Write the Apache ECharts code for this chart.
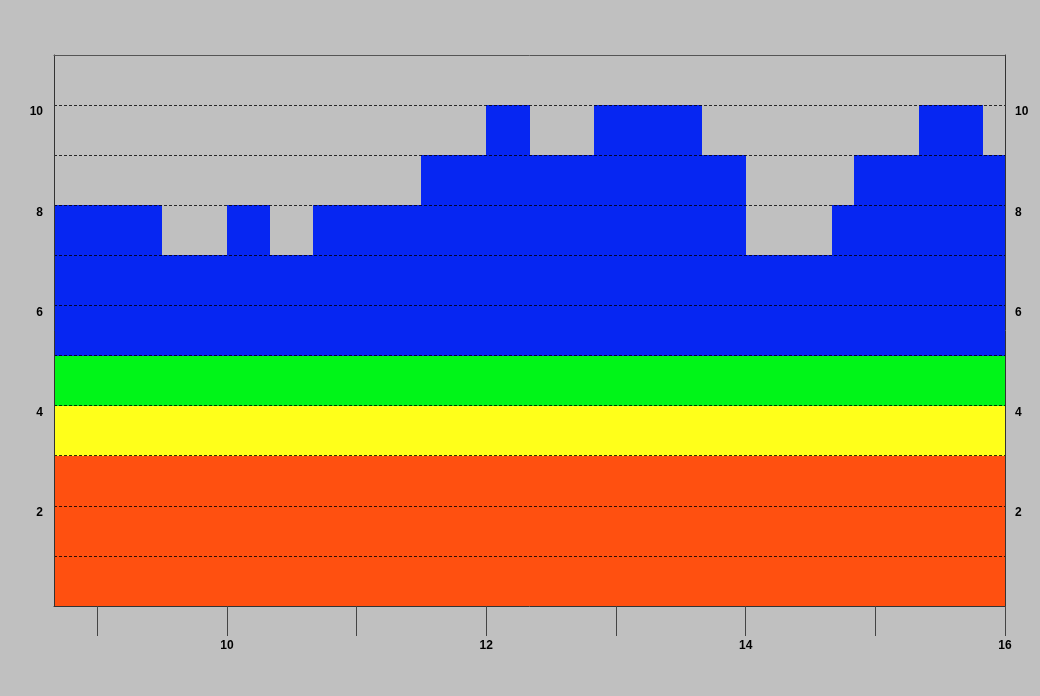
<!DOCTYPE html>
<html>
<head>
<meta charset="utf-8">
<script src="https://cdn.jsdelivr.net/npm/echarts@6/dist/echarts.min.js"></script>
<style>
html,body{margin:0;padding:0;background:#c0c0c0;}
#chart{width:1040px;height:696px;}
</style>
</head>
<body>
<div id="chart"></div>
<script>
// ---- data ----
const segStart = ['8:40','9:30','10:00','10:20','10:40','11:30','12:00','12:20','12:50','13:40','14:00','14:40','14:50','15:20','15:50'];
const segEnd   = ['9:30','10:00','10:20','10:40','11:30','12:00','12:20','12:50','13:40','14:00','14:40','14:50','15:20','15:50','16:00'];
const segLevel = [8, 7, 8, 7, 8, 9, 10, 9, 10, 9, 7, 8, 9, 10, 9];
const blueBase = 5;
const bandLow  = [0, 3, 4];
const bandHigh = [3, 4, 5];
const xStart = '8:40';
const xEnd = '16:00';
const xTickValues = [9, 10, 11, 12, 13, 14, 15, 16];
const xLabelValues = [10, 12, 14, 16];
const yLabelValues = [2, 4, 6, 8, 10];

// ---- styles ----
const bandColors = ['#ff5010', '#ffff1a', '#00f518'];
const blueColor = '#0626f2';

function toHours(s){ const p = s.split(':'); return +p[0] + (+p[1])/60; }
const xMin = toHours(xStart), xMax = toHours(xEnd);

const blueData = segStart.map((s,i)=>[toHours(s), toHours(segEnd[i]), blueBase, segLevel[i]]);
const bandData = bandLow.map((lo,i)=>[xMin, xMax, lo, bandHigh[i], i]);

function rectItem(params, api, color){
  const p0 = api.coord([api.value(0), api.value(3)]);
  const p1 = api.coord([api.value(1), api.value(2)]);
  const x0 = Math.round(p0[0]), y0 = Math.round(p0[1]);
  const x1 = Math.round(p1[0]), y1 = Math.round(p1[1]);
  return {type:'rect', shape:{x:x0, y:y0, width:x1-x0, height:y1-y0}, style:{fill:color}};
}

const labelStyle = {color:'#000', fontFamily:'Liberation Sans, Arial, sans-serif', fontWeight:'bold', fontSize:12};

const chart = echarts.init(document.getElementById('chart'));
chart.setOption({
  backgroundColor:'#c0c0c0',
  animation:false,
  grid:{left:54, right:35, top:55, bottom:90, show:false},
  xAxis:[{
    type:'value', min:xMin, max:xMax, z:12,
    axisLine:{show:true, onZero:false, lineStyle:{color:'#333', width:1}},
    axisTick:{show:true, length:30, customValues:xTickValues, lineStyle:{color:'#444', width:1}},
    axisLabel:Object.assign({show:true, margin:34, customValues:xLabelValues, formatter:v=>String(Math.round(v))}, labelStyle),
    splitLine:{show:false}
  },{
    type:'value', min:xMin, max:xMax, position:'top', z:12,
    axisLine:{show:true, onZero:false, lineStyle:{color:'#555', width:1}},
    axisTick:{show:false}, axisLabel:{show:false}, splitLine:{show:false}
  }],
  yAxis:[{
    type:'value', min:0, max:11, interval:1, z:10,
    axisLine:{show:true, onZero:false, lineStyle:{color:'#333', width:1}},
    axisTick:{show:false},
    axisLabel:Object.assign({margin:11, verticalAlign:'top', padding:[1,0,0,0], formatter:v=>yLabelValues.indexOf(v)>=0?String(v):''}, labelStyle),
    splitLine:{show:true, showMinLine:false, showMaxLine:false, lineStyle:{color:'rgba(0,0,0,0.8)', type:[3,2], width:1}}
  },{
    type:'value', min:0, max:11, interval:1, position:'right', z:12,
    axisLine:{show:true, onZero:false, lineStyle:{color:'#333', width:1}},
    axisTick:{show:false},
    axisLabel:Object.assign({margin:10, verticalAlign:'top', padding:[1,0,0,0], formatter:v=>yLabelValues.indexOf(v)>=0?String(v):''}, labelStyle),
    splitLine:{show:false}
  }],
  series:[{
    type:'custom', xAxisIndex:0, yAxisIndex:0, z:2,
    renderItem:(params, api)=>rectItem(params, api, bandColors[api.value(4)]),
    data:bandData, encode:{x:[0,1], y:[2,3]}
  },{
    type:'custom', xAxisIndex:0, yAxisIndex:0, z:2,
    renderItem:(params, api)=>rectItem(params, api, blueColor),
    data:blueData, encode:{x:[0,1], y:[2,3]}
  }]
});
</script>
</body>
</html>
